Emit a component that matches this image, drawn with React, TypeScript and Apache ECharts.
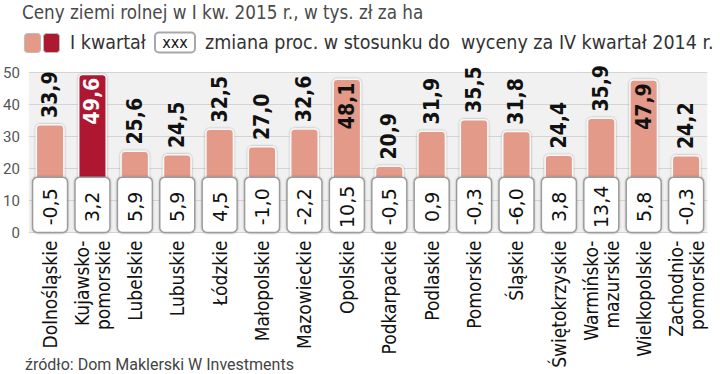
import React, { useEffect, useRef } from "react";
import * as echarts from "echarts";

const categories = [
  "Dolnośląskie",
  "Kujawsko-\npomorskie",
  "Lubelskie",
  "Lubuskie",
  "Łódzkie",
  "Małopolskie",
  "Mazowieckie",
  "Opolskie",
  "Podkarpackie",
  "Podlaskie",
  "Pomorskie",
  "Śląskie",
  "Świętokrzyskie",
  "Warmińsko-\nmazurskie",
  "Wielkopolskie",
  "Zachodnio-\npomorskie",
];

const prices = [33.9, 49.6, 25.6, 24.5, 32.5, 27.0, 32.6, 48.1, 20.9, 31.9, 35.5, 31.8, 24.4, 35.9, 47.9, 24.2];

const changes = [-0.5, 3.2, 5.9, 5.9, 4.5, -1.0, -2.2, 10.5, -0.5, 0.9, -0.3, -6.0, 3.8, 13.4, 5.8, -0.3];

const highlighted = [1];

const yTicks = [0, 10, 20, 30, 40, 50];

const SALMON = "#E39A89";
const DARK_RED = "#AE1932";
const BOX_TOP = 17.3;
const COND = "'DejaVu Sans Condensed', 'DejaVu Sans', sans-serif";
const LIGHT = "Roboto, 'Noto Sans', sans-serif";

const fmt = (v: number) => v.toFixed(1).replace(".", ",");

export default function App() {
  const ref = useRef<HTMLDivElement>(null);

  useEffect(() => {
    if (!ref.current) return;
    const chart = echarts.init(ref.current, undefined, { renderer: "svg" });

    const barData = prices.map((v, i) => {
      const isHi = highlighted.includes(i);
      const inside = v > 45;
      const item: any = {
        value: v,
        itemStyle: { color: isHi ? DARK_RED : SALMON },
      };
      if (inside) {
        item.label = {
          position: "insideTop",
          align: "right",
          distance: 4,
          color: isHi ? "#ffffff" : "#111111",
        };
      }
      return item;
    });

    const option: any = {
      animation: false,
      backgroundColor: "#ffffff",
      grid: {
        left: 25.7,
        right: 12.7,
        top: 72.5,
        bottom: 141.5,
        show: true,
        backgroundColor: "#f1f1f1",
        borderWidth: 0,
      },
      xAxis: {
        type: "category",
        data: categories,
        axisLine: { show: false },
        axisTick: { show: false },
        axisLabel: {
          rotate: 90,
          margin: 8,
          interval: 0,
          fontFamily: COND,
          fontSize: 19,
          lineHeight: 21,
          color: "#111111",
        },
      },
      yAxis: {
        type: "value",
        min: 0,
        max: 50,
        interval: 10,
        axisLine: { show: false },
        axisTick: { show: false },
        splitLine: { lineStyle: { color: "#d4d4d4", width: 1 } },
        axisLabel: {
          margin: 9,
          fontFamily: LIGHT,
          fontSize: 15,
          color: "#555555",
          formatter: (v: number) => (yTicks.includes(v) ? String(v) : ""),
        },
      },
      series: [
        {
          type: "bar",
          data: barData,
          barWidth: 29,
          itemStyle: {
            borderRadius: [4, 4, 0, 0],
            borderColor: "#f8f8f8",
            borderWidth: 1.5,
            shadowColor: "rgba(0,0,0,0.35)",
            shadowBlur: 2,
          },
          label: {
            show: true,
            position: "top",
            rotate: 90,
            align: "left",
            verticalAlign: "middle",
            distance: 6,
            fontFamily: COND,
            fontWeight: "bold",
            fontSize: 21,
            color: "#111111",
            formatter: (p: any) => fmt(p.value),
          },
          z: 2,
        },
        {
          type: "custom",
          data: changes.map((v, i) => [i, v]),
          z: 3,
          renderItem: (params: any, api: any) => {
            const idx = api.value(0);
            const val = api.value(1);
            const base = api.coord([idx, 0]);
            const top = api.coord([idx, BOX_TOP]);
            const w = 35;
            const h = base[1] - top[1];
            return {
              type: "group",
              children: [
                {
                  type: "rect",
                  shape: { x: base[0] - w / 2, y: top[1], width: w, height: h, r: 5 },
                  style: {
                    fill: "#ffffff",
                    stroke: "#9c9c9c",
                    lineWidth: 1.5,
                    shadowColor: "rgba(0,0,0,0.25)",
                    shadowBlur: 2,
                  },
                },
                {
                  type: "text",
                  x: base[0],
                  y: top[1] + h / 2 + 2,
                  rotation: Math.PI / 2,
                  style: {
                    text: fmt(val),
                    align: "center",
                    verticalAlign: "middle",
                    fontFamily: "'DejaVu Sans', sans-serif",
                    fontSize: 19,
                    fill: "#111111",
                  },
                },
              ],
            };
          },
        },
      ],
      graphic: [
        {
          type: "text",
          left: 22,
          top: 3,
          style: {
            text: "Ceny ziemi rolnej w I kw. 2015 r., w tys. zł za ha",
            fontFamily: COND,
            fontSize: 18.7,
            fill: "#4a4a4a",
          },
        },
        {
          type: "rect",
          shape: { x: 24.5, y: 33.5, width: 16, height: 19, r: 3 },
          style: { fill: SALMON, stroke: "#bdbdbd", lineWidth: 1 },
        },
        {
          type: "rect",
          shape: { x: 43.5, y: 33.5, width: 16, height: 19, r: 3 },
          style: { fill: DARK_RED, stroke: "#bdbdbd", lineWidth: 1 },
        },
        {
          type: "text",
          left: 70,
          top: 32,
          style: {
            text: "I kwartał",
            fontFamily: COND,
            fontSize: 19.5,
            fill: "#333333",
          },
        },
        {
          type: "rect",
          shape: { x: 155, y: 32.5, width: 40, height: 20, r: 4 },
          style: { fill: "#ffffff", stroke: "#a8a8a8", lineWidth: 2 },
        },
        {
          type: "text",
          x: 175,
          y: 42.5,
          style: {
            text: "xxx",
            align: "center",
            verticalAlign: "middle",
            fontFamily: COND,
            fontSize: 16,
            fill: "#111111",
          },
        },
        {
          type: "text",
          left: 205,
          top: 32,
          style: {
            text: "zmiana proc. w stosunku do  wyceny za IV kwartał 2014 r.",
            fontFamily: COND,
            fontSize: 19.5,
            fill: "#333333",
          },
        },
        {
          type: "text",
          left: 25,
          top: 356,
          style: {
            text: "źródło: Dom Maklerski W Investments",
            fontFamily: LIGHT,
            fontSize: 16,
            fill: "#444444",
          },
        },
      ],
    };

    chart.setOption(option);
    return () => chart.dispose();
  }, []);

  return (
    <div
      ref={ref}
      style={{ position: "fixed", left: 0, top: 0, width: 720, height: 374 }}
    />
  );
}
